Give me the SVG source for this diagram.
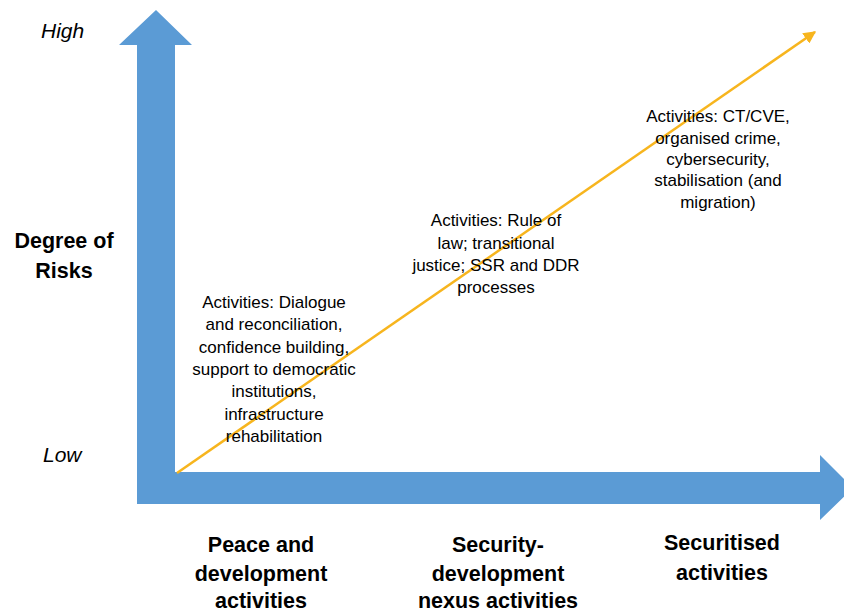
<svg xmlns="http://www.w3.org/2000/svg" width="844" height="614" viewBox="0 0 844 614">
<style>
.act{font-family:"Liberation Sans",Arial,sans-serif;font-size:17px;fill:#000;text-anchor:middle}
.lab{font-family:"Liberation Sans",Arial,sans-serif;font-size:21.5px;font-weight:bold;fill:#000;text-anchor:middle}
.axl{font-family:"Liberation Sans",Arial,sans-serif;font-size:21px;font-style:italic;fill:#000}
</style>
<defs>
<marker id="ah" viewBox="0 0 10 10" refX="9" refY="5" markerWidth="5" markerHeight="5" orient="auto" markerUnits="strokeWidth">
<path d="M0,0 L10,5 L0,10 Z" fill="#F7B51E"/>
</marker>
</defs>
<rect width="844" height="614" fill="#fff"/>
<g id="axes">
<polygon points="156,10 192,45 175,45 175,472 820,472 820,455 853,488 820,520 820,504 137,504 137,45 119,45" fill="#5B9BD5"/>
</g>
<g id="connectors">
<line x1="177" y1="473" x2="815" y2="32" stroke="#F7B51E" stroke-width="2.5" marker-end="url(#ah)"/>
</g>
<g id="axis-labels">
<text class="axl" x="41" y="38">High</text>
<text class="axl" x="43" y="462">Low</text>
<text class="lab" x="64" y="248">Degree of</text>
<text class="lab" x="64" y="278">Risks</text>
</g>
<g id="node-peace">
<text class="act" x="274" y="308">Activities: Dialogue</text>
<text class="act" x="274" y="330">and reconciliation,</text>
<text class="act" x="274" y="352.5">confidence building,</text>
<text class="act" x="274" y="375">support to democratic</text>
<text class="act" x="274" y="397">institutions,</text>
<text class="act" x="274" y="419.5">infrastructure</text>
<text class="act" x="274" y="442">rehabilitation</text>
</g>
<g id="node-nexus">
<text class="act" x="496" y="226">Activities: Rule of</text>
<text class="act" x="496" y="248.5">law; transitional</text>
<text class="act" x="496" y="271">justice; SSR and DDR</text>
<text class="act" x="496" y="293">processes</text>
</g>
<g id="node-securitised">
<text class="act" x="718" y="122">Activities: CT/CVE,</text>
<text class="act" x="718" y="143.5">organised crime,</text>
<text class="act" x="718" y="165">cybersecurity,</text>
<text class="act" x="718" y="186">stabilisation (and</text>
<text class="act" x="718" y="207.5">migration)</text>
</g>
<g id="label-peace">
<text class="lab" x="261" y="552">Peace and</text>
<text class="lab" x="261" y="581">development</text>
<text class="lab" x="261" y="608">activities</text>
</g>
<g id="label-nexus">
<text class="lab" x="498" y="552">Security-</text>
<text class="lab" x="498" y="581">development</text>
<text class="lab" x="498" y="608">nexus activities</text>
</g>
<g id="label-securitised">
<text class="lab" x="722" y="550">Securitised</text>
<text class="lab" x="722" y="580">activities</text>
</g>
</svg>
